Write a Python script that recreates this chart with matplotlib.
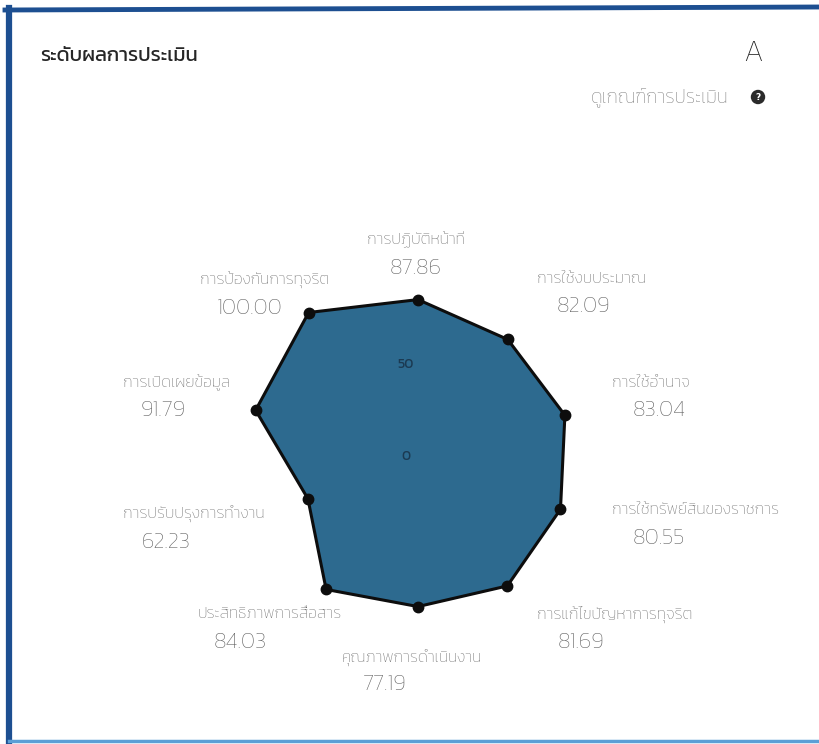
import numpy as np
import matplotlib
matplotlib.use('Agg')
import matplotlib.pyplot as plt
from matplotlib.lines import Line2D

plt.rcParams['font.family'] = ['Kanit', 'DejaVu Sans']

# ข้อมูลผลการประเมิน (ตามเข็มนาฬิกา เริ่มจากด้านบน)
categories = ['การปฏิบัติหน้าที่', 'การใช้งบประมาณ', 'การใช้อำนาจ', 'การใช้ทรัพย์สินของราชการ',
              'การแก้ไขปัญหาการทุจริต', 'คุณภาพการดำเนินงาน', 'ประสิทธิภาพการสื่อสาร',
              'การปรับปรุงการทำงาน', 'การเปิดเผยข้อมูล', 'การป้องกันการทุจริต']
scores = [87.86, 82.09, 83.04, 80.55, 81.69, 77.19, 84.03, 62.23, 91.79, 100.00]
r_ticks = [0, 50]
grade = 'A'

W, H = 819, 744
# ตำแหน่งป้าย (พิกเซล): x ซ้ายของชื่อ, y ชื่อ, x ซ้ายของค่า, y ค่า
label_pos = [(367, 240, 390, 268), (537, 279, 557, 307), (612, 383, 633, 411),
             (612, 510, 633, 539), (537, 614, 558, 642), (342, 657, 363, 685),
             (198, 614, 214, 642), (123, 513, 142, 543), (123, 383, 141, 411),
             (200, 280, 217, 309)]

fig = plt.figure(figsize=(W / 100, H / 100), dpi=100)
fig.patch.set_facecolor('white')

def px(x, y):
    return x / W, 1 - y / H

# กรอบการ์ด
fig.add_artist(Line2D([9 / W, 9 / W], [1 - 8 / H, 0], color='#1d4f91', lw=4.5, transform=fig.transFigure))
fig.add_artist(Line2D([5 / W, 1], [1 - 10 / H, 1 - 7 / H], color='#1d4f91', lw=3.5, transform=fig.transFigure))
fig.add_artist(Line2D([9 / W, 1], [1 - 741 / H, 1 - 741 / H], color='#5b9fd6', lw=2.5, transform=fig.transFigure))

# หัวการ์ด
fig.text(*px(40, 56), 'ระดับผลการประเมิน', fontsize=14.5, color='#262626', va='center', ha='left')
fig.text(*px(763, 54), grade, fontsize=22, color='#1e1e1e', va='center', ha='right', fontweight='light')
fig.text(*px(728, 98), 'ดูเกณฑ์การประเมิน', fontsize=13.5, color='#808080', va='center', ha='right', fontweight='light')
fig.text(*px(758, 97), '?', fontsize=6.5, color='white', fontweight='bold', va='center', ha='center',
         family='DejaVu Sans', bbox=dict(boxstyle='circle,pad=0.3', fc='#2b2b2b', ec='none'))

# เรดาร์
cx, cy, R = 418, 463, 186
ax = fig.add_axes([(cx - R) / W, (H - cy - R) / H, 2 * R / W, 2 * R / H], projection='polar')
ax.set_theta_offset(np.pi / 2)
ax.set_theta_direction(-1)
ax.set_ylim(0, 100)
ax.grid(False)
ax.spines['polar'].set_visible(False)
ax.set_xticks([])
ax.set_yticks([])
ax.patch.set_alpha(0)

angles = np.linspace(0, 2 * np.pi, len(categories), endpoint=False)
ang_c = np.append(angles, angles[0])
val_c = np.append(scores, scores[0])
ax.fill(ang_c, val_c, color='#2d6a8f', alpha=1, zorder=2, clip_on=False)
ax.plot(ang_c, val_c, color='#0d0d0d', lw=2.2, zorder=3, clip_on=False)
ax.plot(angles, scores, 'o', color='#0d0d0d', ms=7.5, zorder=4, clip_on=False)

for t in r_ticks:
    ax.annotate(str(t), (0, t), xytext=(-12, 6), textcoords='offset pixels', fontsize=10,
                color='#1b3a52', ha='center', va='center', zorder=5)

for name, val, (lx, ly, vx, vy) in zip(categories, scores, label_pos):
    fig.text(*px(lx, ly), name, fontsize=11.5, color='#6c6c6c', va='center', ha='left', fontweight='light')
    fig.text(*px(vx, vy), '%.2f' % val, fontsize=16, color='#5e5e5e', va='center', ha='left', fontweight='light')

fig.savefig('out.png', dpi=100, facecolor='white')
